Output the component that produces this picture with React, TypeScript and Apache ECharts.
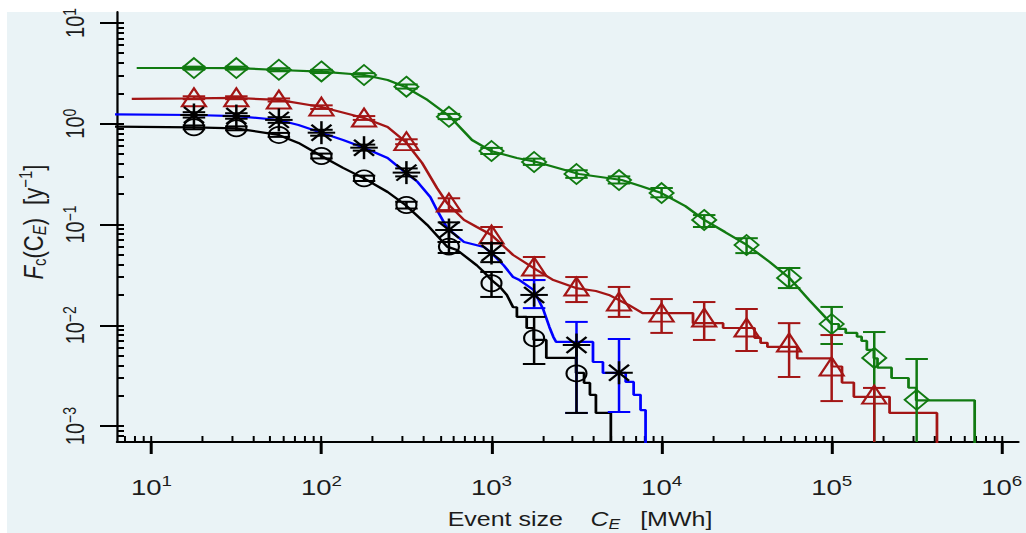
import React, { useEffect, useRef } from 'react';
import * as echarts from 'echarts';

// ---------------- data (event size C_E in MWh, frequency F_c in 1/y) ----------------
const xTickExps = [1, 2, 3, 4, 5, 6];
const yTickExps = [-3, -2, -1, 0, 1];
const xDecades = [0, 1, 2, 3, 4, 5, 6];
const yDecades = [-4, -3, -2, -1, 0, 1];
const minorMultipliers = [1, 2, 3, 4, 5, 6, 7, 8, 9];

const markerX = [17.8, 31.6, 56.2, 100, 178, 316, 562, 1000, 1780, 3160, 5620, 10000, 17800, 31600, 56200, 100000, 178000, 316000];

// green (diamonds)
const greenY = [3.56, 3.56, 3.43, 3.30, 3.04, 2.33, 1.17, 0.536, 0.417, 0.317, 0.276, 0.205, 0.111, 0.0626, 0.0295, 0.0103, 0.00474, 0.00182];
const greenHi = [3.68, 3.68, 3.55, 3.42, 3.17, 2.45, 1.25, 0.575, 0.45, 0.345, 0.30, 0.23, 0.124, 0.0731, 0.037, 0.0152, 0.00857, 0.00463];
const greenLo = [3.44, 3.44, 3.31, 3.18, 2.93, 2.23, 1.11, 0.50, 0.39, 0.29, 0.255, 0.186, 0.0944, 0.052, 0.0234, 0.00652, 0, 0];
const greenHeadX = [8.2, 17.8, 31.6, 56, 100, 178, 245, 312, 420, 571, 768, 991, 1410, 1840, 3270, 5830, 7520, 9970, 13800, 17800, 23600, 31700, 43200, 56400, 73800, 100000];
const greenHeadY = [3.57, 3.57, 3.56, 3.41, 3.28, 3.04, 2.71, 2.31, 1.72, 1.17, 0.689, 0.536, 0.457, 0.417, 0.317, 0.276, 0.241, 0.205, 0.152, 0.111, 0.0842, 0.0626, 0.0425, 0.0295, 0.0178, 0.0103];
const greenTailX = [110000, 121000, 141000, 150000, 161000, 177000, 186000, 225000, 283000, 314000, 693000];
const greenTailY = [0.0092, 0.0084, 0.0077, 0.0070, 0.0057, 0.0047, 0.0038, 0.0030, 0.0024, 0.0018, 0];

// red (triangles)
const redY = [1.81, 1.81, 1.72, 1.46, 1.14, 0.663, 0.163, 0.0787, 0.0379, 0.024, 0.017, 0.0132, 0.0118, 0.0094, 0.00667, 0.00385, 0.00203];
const redHi = [1.87, 1.87, 1.78, 1.52, 1.19, 0.70, 0.182, 0.0944, 0.0476, 0.0301, 0.024, 0.0182, 0.017, 0.0145, 0.0105, 0.0080, 0.00239];
const redLo = [1.75, 1.75, 1.66, 1.40, 1.09, 0.626, 0.139, 0.0655, 0.0281, 0.017, 0.0121, 0.0084, 0.00715, 0.00556, 0.00307, 0.00177, 0];
const redHeadX = [7.67, 17.8, 31.4, 56, 100, 178, 245, 312, 391, 478, 548, 689, 820, 1000, 1340, 1840, 2310, 3140, 4110, 4900, 6400, 7730];
const redHeadY = [1.76, 1.78, 1.80, 1.72, 1.465, 1.14, 0.927, 0.663, 0.407, 0.230, 0.163, 0.111, 0.0944, 0.0787, 0.0498, 0.0354, 0.0281, 0.0234, 0.0219, 0.020, 0.0159, 0.0132];
const redTailX = [15300, 23000, 35200, 38200, 41900, 62700, 100500, 115000, 135000, 219000, 416000];
const redTailY = [0.0105, 0.0094, 0.0075, 0.0067, 0.0061, 0.0047, 0.0039, 0.0027, 0.00195, 0.00135, 0];

// blue line (asterisks)
const blueY = [1.22, 1.19, 1.09, 0.814, 0.578, 0.327, 0.0881, 0.0521, 0.020, 0.00637, 0.00338];
const blueHi = [1.30, 1.27, 1.16, 0.87, 0.62, 0.36, 0.105, 0.0652, 0.0281, 0.0108, 0.00731];
const blueLo = [1.15, 1.12, 1.02, 0.76, 0.54, 0.30, 0.067, 0.0423, 0.0148, 0.00135, 0.00138];
const blueHeadX = [6.0, 17.7, 31.4, 56, 73.3, 100, 134, 178, 245, 312, 367, 437, 478, 548, 689, 902, 1000, 1180, 1340, 1460, 1770, 2020, 2190, 2310, 2400];
const blueHeadY = [1.24, 1.22, 1.19, 1.088, 0.971, 0.814, 0.690, 0.578, 0.456, 0.327, 0.265, 0.187, 0.139, 0.0923, 0.067, 0.0598, 0.0521, 0.0393, 0.0301, 0.0281, 0.0224, 0.0142, 0.0096, 0.00766, 0.00683];
const blueTailX = [3950, 4520, 6150, 6850, 7520, 8050];
const blueTailY = [0.00432, 0.00337, 0.00274, 0.00204, 0.00144, 0];

// black line (circles)
const blackY = [0.921, 0.90, 0.773, 0.478, 0.287, 0.156, 0.0603, 0.0261, 0.00743, 0.00333];
const blackHi = [0.96, 0.94, 0.81, 0.505, 0.305, 0.168, 0.067, 0.0338, 0.0121, 0.00637];
const blackLo = [0.88, 0.86, 0.74, 0.452, 0.27, 0.144, 0.0521, 0.0191, 0.00413, 0.00135];
const blackHeadX = [6.0, 17.8, 31.4, 56, 73.3, 100, 134, 178, 245, 312, 419, 548, 627, 820, 902, 1000, 1120, 1230, 1340];
const blackHeadY = [0.934, 0.921, 0.90, 0.773, 0.644, 0.478, 0.364, 0.287, 0.210, 0.156, 0.0989, 0.0603, 0.0558, 0.0393, 0.0338, 0.0281, 0.024, 0.020, 0.0151];
const blackTailX = [1410, 1610, 1770, 2100, 3140, 3500, 3790, 4110, 5030];
const blackTailY = [0.0121, 0.0094, 0.00715, 0.00474, 0.00337, 0.00268, 0.00204, 0.00135, 0];

// ---------------- layout / style ----------------
const FULL_W = 1026;
const FULL_H = 533;
const CHART_W = 821;
const STRETCH = FULL_W / CHART_W;

const X_MIN = 0.798; // log10 of axis start
const X_MAX = 6.098;
const Y_MIN = -3.158;
const Y_MAX = 1.108;
const LOG_FLOOR = Y_MIN - 1;

const GREEN = '#117a11';
const RED = '#a31515';
const BLUE = '#0000ff';
const BLACK = '#000000';
const FONT = "'Liberation Sans', Arial, Helvetica, sans-serif";
const TXT = '#1c1c1c';

const lg = (v: number) => (v > 0 ? Math.log10(v) : LOG_FLOOR);

function buildLine(hx: number[], hy: number[], tx: number[], ty: number[]) {
  const pts: number[][] = hx.map((x, i) => [lg(x), lg(hy[i])]);
  let prev = hy[hy.length - 1];
  tx.forEach((x, i) => {
    pts.push([lg(x), lg(prev)]);
    pts.push([lg(x), lg(ty[i])]);
    prev = ty[i];
  });
  return pts;
}

function lineSeries(name: string, pts: number[][], color: string) {
  return {
    type: 'line',
    name,
    data: pts,
    showSymbol: false,
    symbol: 'none',
    silent: true,
    z: 3,
    lineStyle: { color, width: 2.2 },
  };
}

const CAP = 9;

function markerSeries(
  name: string,
  ys: number[],
  lo: number[],
  hi: number[],
  kind: string,
  color: string,
  errColor: (i: number) => string
) {
  const data = ys.map((y, i) => [lg(markerX[i]), lg(y), lg(lo[i]), lg(hi[i]), i]);
  return {
    type: 'custom',
    name,
    silent: true,
    z: 5,
    encode: { x: 0, y: 1 },
    data,
    renderItem: (_params: any, api: any) => {
      const x = api.value(0);
      const y = api.value(1);
      const l = api.value(2);
      const h = api.value(3);
      const idx = api.value(4);
      const p = api.coord([x, y]);
      const px = p[0];
      const py = p[1];
      const pTop = api.coord([x, h])[1];
      const pBot = api.coord([x, Math.max(l, Y_MIN)])[1];
      const ec = errColor(idx);
      const es = { stroke: ec, lineWidth: 2 };
      const children: any[] = [
        { type: 'line', shape: { x1: px, y1: pTop, x2: px, y2: pBot }, style: es },
        { type: 'line', shape: { x1: px - CAP, y1: pTop, x2: px + CAP, y2: pTop }, style: es },
      ];
      if (l > Y_MIN) {
        children.push({ type: 'line', shape: { x1: px - CAP, y1: pBot, x2: px + CAP, y2: pBot }, style: es });
      }
      const ms = { fill: 'none', stroke: color, lineWidth: 1.7 };
      if (kind === 'circle') {
        children.push({ type: 'circle', shape: { cx: px, cy: py, r: 8 }, style: ms });
      } else if (kind === 'diamond') {
        children.push({
          type: 'polygon',
          shape: { points: [[px, py - 10], [px + 9.6, py], [px, py + 10], [px - 9.6, py]] },
          style: ms,
        });
      } else if (kind === 'triangle') {
        children.push({
          type: 'polygon',
          shape: { points: [[px, py - 9.5], [px + 9.6, py + 8.5], [px - 9.6, py + 8.5]] },
          style: { ...ms, lineWidth: 1.9 },
        });
      } else {
        const as = { stroke: color, lineWidth: 2 };
        children.push(
          { type: 'line', shape: { x1: px - 11, y1: py, x2: px + 11, y2: py }, style: as },
          { type: 'line', shape: { x1: px, y1: py - 11.5, x2: px, y2: py + 11.5 }, style: as },
          { type: 'line', shape: { x1: px - 8, y1: py - 8, x2: px + 8, y2: py + 8 }, style: as },
          { type: 'line', shape: { x1: px - 8, y1: py + 8, x2: px + 8, y2: py - 8 }, style: as }
        );
      }
      return { type: 'group', children };
    },
  };
}

const expText = (v: number) => {
  const n = Math.round(v);
  return n < 0 ? '\u2212' + -n : String(n);
};

function buildOption() {
  const xMinor = xDecades
    .flatMap((n) => minorMultipliers.map((k) => n + Math.log10(k)))
    .filter((v) => v >= X_MIN && v <= X_MAX);
  const yMinor = yDecades
    .flatMap((n) => minorMultipliers.map((k) => n + Math.log10(k)))
    .filter((v) => v >= Y_MIN && v <= Y_MAX);

  const xRich = {
    b: { fontSize: 22, lineHeight: 26, fontFamily: FONT, color: TXT },
    e: { fontSize: 15, lineHeight: 15, verticalAlign: 'top', fontFamily: FONT, color: TXT },
  };
  const yRich = {
    b: { fontSize: 20, lineHeight: 24, fontFamily: FONT, color: TXT },
    e: { fontSize: 14, lineHeight: 14, verticalAlign: 'top', fontFamily: FONT, color: TXT },
  };

  const baseAxis = {
    type: 'value',
    splitLine: { show: false },
    minorTick: { show: false },
    minorSplitLine: { show: false },
  };

  return {
    animation: false,
    backgroundColor: 'transparent',
    grid: { left: 117 / STRETCH, right: 0, top: 12, bottom: FULL_H - 442, containLabel: false },
    xAxis: [
      {
        ...baseAxis,
        min: X_MIN,
        max: X_MAX,
        position: 'bottom',
        axisLine: { show: true, onZero: false, lineStyle: { color: BLACK, width: 2 } },
        axisTick: { show: true, inside: false, length: 12, customValues: xTickExps, lineStyle: { color: BLACK, width: 2.4 } },
        axisLabel: {
          show: true,
          customValues: xTickExps,
          margin: 32,
          formatter: (v: number) => `{b|10}{e|${expText(v)}}`,
          rich: xRich,
        },
      },
      {
        ...baseAxis,
        min: X_MIN,
        max: X_MAX,
        position: 'bottom',
        axisLine: { show: false, onZero: false },
        axisTick: { show: true, inside: true, length: 6, customValues: xMinor, lineStyle: { color: BLACK, width: 1.6 } },
        axisLabel: { show: false },
      },
    ],
    yAxis: [
      {
        ...baseAxis,
        min: Y_MIN,
        max: Y_MAX,
        position: 'left',
        axisLine: { show: true, onZero: false, lineStyle: { color: BLACK, width: 1.8 } },
        axisTick: { show: true, inside: false, length: 13.6, customValues: yTickExps, lineStyle: { color: BLACK, width: 2 } },
        axisLabel: {
          show: true,
          customValues: yTickExps,
          rotate: 90,
          margin: 21,
          formatter: (v: number) => `{b|10}{e|${expText(v)}}`,
          rich: yRich,
        },
      },
      {
        ...baseAxis,
        min: Y_MIN,
        max: Y_MAX,
        position: 'left',
        axisLine: { show: false, onZero: false },
        axisTick: { show: true, inside: true, length: 5.6, customValues: yMinor, lineStyle: { color: BLACK, width: 2 } },
        axisLabel: { show: false },
      },
    ],
    graphic: [
      {
        type: 'text',
        x: 580 / STRETCH,
        y: 519,
        silent: true,
        style: {
          text: '{r|Event size}{i|C}{s|E}{q|[MWh]}',
          align: 'center',
          verticalAlign: 'middle',
          textAlign: 'center',
          textVerticalAlign: 'middle',
          fontSize: 20,
          fontFamily: FONT,
          fill: TXT,
          rich: {
            r: { fontSize: 20, lineHeight: 24, fontFamily: FONT, color: TXT },
            i: { fontSize: 20, lineHeight: 24, fontStyle: 'italic', fontFamily: FONT, color: TXT, padding: [0, 0, 0, 22] },
            s: { fontSize: 14, lineHeight: 14, fontStyle: 'italic', verticalAlign: 'bottom', fontFamily: FONT, color: TXT },
            q: { fontSize: 20, lineHeight: 24, fontFamily: FONT, color: TXT, padding: [0, 0, 0, 16] },
          },
        },
      },
      {
        type: 'text',
        x: 33 / STRETCH,
        y: 222,
        rotation: Math.PI / 2,
        silent: true,
        style: {
          text: '{i|F}{s|c}{r|(C}{si|E}{r|)}{q|[y}{p|\u22121}{r|]}',
          align: 'center',
          verticalAlign: 'middle',
          textAlign: 'center',
          textVerticalAlign: 'middle',
          fontSize: 22,
          fontFamily: FONT,
          fill: TXT,
          rich: {
            i: { fontSize: 22, lineHeight: 26, fontStyle: 'italic', fontFamily: FONT, color: TXT },
            r: { fontSize: 22, lineHeight: 26, fontFamily: FONT, color: TXT },
            s: { fontSize: 15, lineHeight: 15, verticalAlign: 'bottom', fontFamily: FONT, color: TXT },
            si: { fontSize: 15, lineHeight: 15, fontStyle: 'italic', verticalAlign: 'bottom', fontFamily: FONT, color: TXT },
            q: { fontSize: 22, lineHeight: 26, fontFamily: FONT, color: TXT, padding: [0, 0, 0, 13] },
            p: { fontSize: 15, lineHeight: 15, verticalAlign: 'top', fontFamily: FONT, color: TXT },
          },
        },
      },
    ],
    series: [
      lineSeries('green', buildLine(greenHeadX, greenHeadY, greenTailX, greenTailY), GREEN),
      lineSeries('red', buildLine(redHeadX, redHeadY, redTailX, redTailY), RED),
      lineSeries('blue', buildLine(blueHeadX, blueHeadY, blueTailX, blueTailY), BLUE),
      lineSeries('black', buildLine(blackHeadX, blackHeadY, blackTailX, blackTailY), BLACK),
      markerSeries('green markers', greenY, greenLo, greenHi, 'diamond', GREEN, () => GREEN),
      markerSeries('red markers', redY, redLo, redHi, 'triangle', RED, () => RED),
      markerSeries('blue markers', blueY, blueLo, blueHi, 'asterisk', BLACK, (i) => (i >= 8 ? BLUE : BLACK)),
      markerSeries('black markers', blackY, blackLo, blackHi, 'circle', BLACK, () => BLACK),
    ],
  };
}

export default function App() {
  const ref = useRef<HTMLDivElement>(null);
  useEffect(() => {
    if (!ref.current) return;
    const chart = echarts.init(ref.current, null, { renderer: 'svg' });
    chart.setOption(buildOption() as any);
    return () => {
      chart.dispose();
    };
  }, []);
  return (
    <div style={{ position: 'fixed', left: 0, top: 0, width: FULL_W, height: FULL_H, background: '#ffffff', overflow: 'hidden' }}>
      <div style={{ position: 'absolute', left: 7, top: 12, right: 0, bottom: 0, background: '#eaf3f6' }} />
      <div
        ref={ref}
        style={{
          position: 'absolute',
          left: 0,
          top: 0,
          width: CHART_W,
          height: FULL_H,
          transform: `scaleX(${STRETCH})`,
          transformOrigin: '0 0',
        }}
      />
    </div>
  );
}
